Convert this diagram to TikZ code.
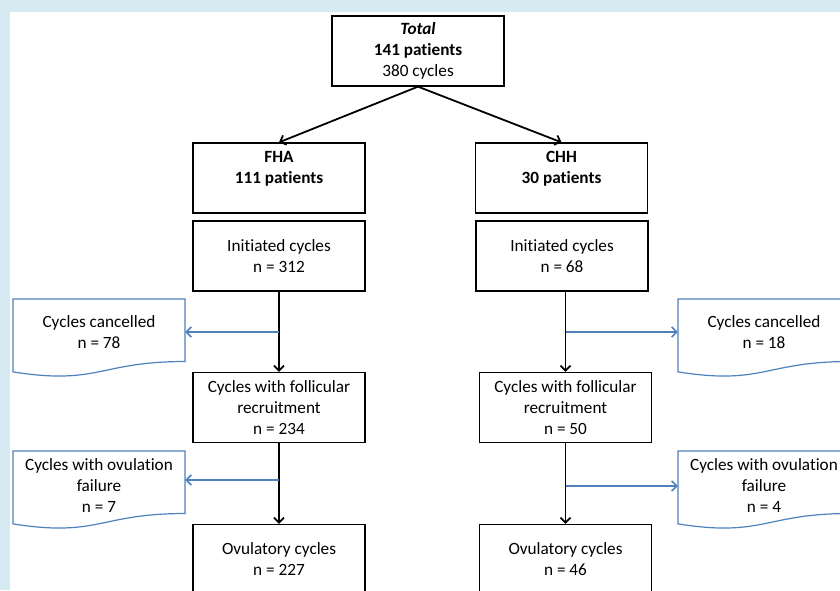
\documentclass[tikz,border=0pt]{standalone}
\usepackage{fontspec}
\setmainfont{Carlito}[Ligatures=NoCommon]
\usetikzlibrary{arrows.meta}
\definecolor{fondo}{RGB}{214,235,241}
\definecolor{azul}{RGB}{79,129,189}
\tikzset{
  caja/.style={draw, line width=1.3pt, minimum width=172pt, minimum height=70pt, align=center, inner sep=0pt},
  hoja/.style={minimum width=172pt, align=center, inner sep=0pt},
  flecha/.style={line width=1.8pt, -{Straight Barb[length=5pt,width=10pt]}},
  lateral/.style={azul, line width=1.6pt, -{Straight Barb[length=5pt,width=10pt]}}
}
% Hoja con borde inferior ondulado
\newcommand\hojaborde[2]{\draw[azul, line width=1.2pt, shift={(#1,#2)}] (0,0) -- (172,0) -- (172,62.5)
  .. controls (86,62.5) and (86,86.4) .. (0,72.9) -- cycle;}

\begin{document}
\begin{tikzpicture}[x=1pt, y=-1pt, font=\fontsize{17.2}{21}\selectfont] % 1 unidad = 1 pixel
    \fill[fondo] (0,0) rectangle (840,590); % Fondo
    \fill[white] (10,12) rectangle (840,590);
    \useasboundingbox (0,0) rectangle (840,590);
    % Cajas principales
    \node[caja] (total) at (418,51) {\textbf{\textit{Total}}\\\textbf{141 patients}\\380 cycles};
    \node[caja] (fha) at (279,178) {\textbf{FHA}\\\textbf{111 patients}\\\mbox{}};
    \node[caja] (chh) at (561.5,178) {\textbf{CHH}\\\textbf{30 patients}\\\mbox{}};
    \node[caja] (iniF) at (279,256) {Initiated cycles\\n = 312};
    \node[caja] (iniC) at (562,256) {Initiated cycles\\n = 68};
    \node[caja] (folF) at (279,407.5) {Cycles with follicular\\recruitment\\n = 234};
    \node[caja] (folC) at (565.5,407.5) {Cycles with follicular\\recruitment\\n = 50};
    \node[caja] (ovuF) at (279,559.5) {Ovulatory cycles\\n = 227};
    \node[caja] (ovuC) at (565.5,559.5) {Ovulatory cycles\\n = 46};
    % Hojas laterales
    \hojaborde{13}{299} \hojaborde{13}{451}
    \hojaborde{678}{299} \hojaborde{678}{451}
    \node[hoja] (canL) at (99,332) {Cycles cancelled\\n = 78};
    \node[hoja] (falL) at (99,486) {Cycles with ovulation\\failure\\n = 7};
    \node[hoja] (canR) at (764,332) {Cycles cancelled\\n = 18};
    \node[hoja] (falR) at (764,486) {Cycles with ovulation\\failure\\n = 4};
    % Flechas
    \draw[flecha] (total.south) -- (fha.north);
    \draw[flecha] (total.south) -- (chh.north);
    \draw[flecha] (iniF) -- (folF);
    \draw[flecha] (folC.north |- iniC.south) -- (folC.north);
    \draw[flecha] (folF) -- (ovuF);
    \draw[flecha] (folC) -- (ovuC);
    \coordinate (pL) at (279,480);
    \draw[lateral] (iniF.south |- canL.east) -- (canL.east);
    \draw[lateral] (pL) -- (pL -| falL.east);
    \draw[lateral] (folC.north |- canR.west) -- (canR.west);
    \draw[lateral] (folC.south |- falR.west) -- (falR.west);
\end{tikzpicture}
\end{document}
